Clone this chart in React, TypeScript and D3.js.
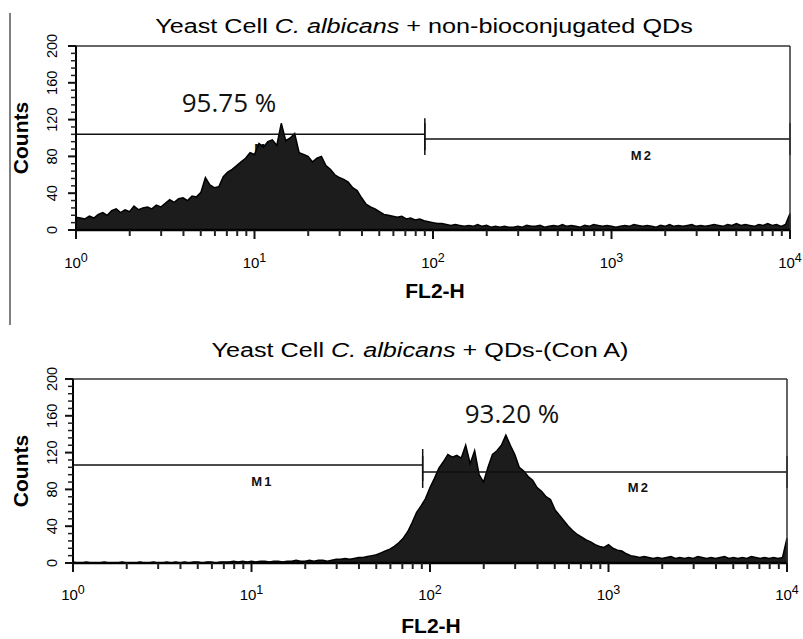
import * as d3 from "d3";

// counts per channel, 40 channels per decade, 10^0 .. 10^4
const topCounts = [
  14, 13, 12, 15, 13, 17, 19, 16, 21, 23,
  19, 22, 20, 26, 22, 24, 25, 23, 27, 25,
  29, 33, 30, 34, 35, 32, 37, 36, 41, 57,
  49, 46, 47, 58, 63, 66, 70, 74, 78, 84,
  82, 94, 90, 96, 98, 92, 116, 97, 100, 105,
  84, 82, 80, 74, 78, 80, 70, 66, 60, 57,
  55, 52, 46, 43, 35, 28, 25, 23, 20, 17,
  16, 15, 14, 15, 12, 13, 11, 12, 10, 9,
  8, 7, 7, 6, 5, 6, 5, 4, 5, 4,
  6, 4, 5, 3, 4, 3, 4, 3, 3, 4,
  3, 5, 4, 4, 5, 3, 4, 5, 4, 6,
  4, 5, 4, 3, 5, 4, 6, 5, 4, 5,
  4, 3, 4, 5, 4, 6, 5, 4, 5, 4,
  3, 5, 4, 6, 4, 5, 4, 5, 6, 4,
  5, 4, 5, 6, 5, 4, 6, 5, 7, 5,
  6, 5, 4, 6, 5, 7, 5, 6, 4, 6,
  18,
];

const bottomCounts = [
  1, 0, 0, 1, 0, 0, 0, 1, 0, 0,
  0, 1, 0, 0, 0, 1, 0, 0, 1, 0,
  0, 1, 0, 1, 0, 1, 0, 1, 1, 0,
  1, 1, 0, 1, 1, 1, 2, 1, 2, 1,
  2, 1, 2, 2, 1, 2, 2, 1, 2, 2,
  3, 2, 2, 3, 2, 3, 3, 2, 3, 4,
  4, 5, 4, 5, 6, 6, 7, 8, 9, 11,
  13, 15, 18, 22, 27, 34, 44, 55, 62, 70,
  82, 92, 103, 110, 118, 115, 117, 114, 128, 108,
  122, 96, 88, 104, 118, 122, 128, 139, 128, 118,
  104, 100, 94, 90, 82, 78, 72, 69, 58, 52,
  46, 40, 35, 31, 28, 25, 23, 20, 18, 17,
  20, 16, 14, 13, 10, 8, 7, 6, 7, 6,
  5, 6, 5, 6, 7, 5, 6, 5, 6, 5,
  7, 6, 5, 6, 5, 6, 7, 5, 6, 5,
  6, 5, 7, 6, 5, 6, 5, 6, 5, 6,
  27,
];

const CHANNELS_PER_DECADE = 40;
const Y_TICKS = [0, 40, 80, 120, 160, 200];
const DECADES = [0, 1, 2, 3, 4];

type Marker = {
  name: string;
  from: number;
  to: number;
  count: number;
  labelAt: number;
  labelCount: number;
};

const topMarkers: Marker[] = [
  { name: "M1", from: 1, to: 90, count: 104, labelAt: 11.5, labelCount: 84 },
  { name: "M2", from: 90, to: 10000, count: 99, labelAt: 1480, labelCount: 76 },
];

const bottomMarkers: Marker[] = [
  { name: "M1", from: 1, to: 91, count: 106.5, labelAt: 11.5, labelCount: 84 },
  { name: "M2", from: 91, to: 10000, count: 99, labelAt: 1480, labelCount: 77 },
];

const topPct = { text: "95.75 %", at: 7.2, count: 128 };
const bottomPct = { text: "93.20 %", at: 288, count: 152 };

const SANS = "'Liberation Sans', Arial, Helvetica, sans-serif";
const PLOT_H = 184;

type PanelProps = {
  left: number;
  right: number;
  top: number;
  counts: number[];
  markers: Marker[];
  pct: { text: string; at: number; count: number };
  titleRest: string;
  titleX: number;
  titleY: number;
  tickY: number;
  axisLabelX: number;
  axisLabelY: number;
};

const Panel = ({
  left,
  right,
  top,
  counts,
  markers,
  pct,
  titleRest,
  titleX,
  titleY,
  tickY,
  axisLabelX,
  axisLabelY,
}: PanelProps) => {
  const bottom = top + PLOT_H;
  const x = d3.scaleLog().domain([1, 10000]).range([left, right]);
  const y = d3.scaleLinear().domain([0, 200]).range([bottom, top]);

  const area = d3
    .area<number>()
    .x((_, i) => x(Math.pow(10, i / CHANNELS_PER_DECADE)))
    .y0(y(0))
    .y1((d) => y(d));

  const minorY = d3.range(0, 201, 8).filter((v) => v % 40 !== 0);
  const minorX = DECADES.slice(0, -1).flatMap((k) =>
    d3.range(2, 10).map((m) => m * Math.pow(10, k))
  );

  return (
    <g>
      {/* title */}
      <text
        transform={`translate(${titleX},${titleY}) scale(1.2,1)`}
        textAnchor="middle"
        fontFamily={SANS}
        fontSize={21}
        fill="#000"
      >
        <tspan>Yeast Cell </tspan>
        <tspan fontStyle="italic">C. albicans</tspan>
        <tspan>{` + ${titleRest}`}</tspan>
      </text>

      {/* marker labels (under the histogram) */}
      {markers.map((m) => (
        <text
          key={m.name + "l"}
          x={x(m.labelAt)}
          y={y(m.labelCount)}
          textAnchor="middle"
          fontFamily={SANS}
          fontSize={13}
          fontWeight="bold"
          letterSpacing={2}
          fill="#111"
        >
          {m.name}
        </text>
      ))}

      {/* histogram */}
      <path d={area(counts) ?? ""} fill="#1c1c1c" stroke="#000" strokeWidth={1.5} strokeLinejoin="miter" />

      {/* markers */}
      {markers.map((m) => (
        <g key={m.name} stroke="#111" strokeWidth={1.5}>
          <line x1={x(m.from)} x2={x(m.to)} y1={y(m.count)} y2={y(m.count)} />
          <line x1={x(m.from)} x2={x(m.from)} y1={y(m.count) - 16} y2={y(m.count) + 16} />
          <line x1={x(m.to)} x2={x(m.to)} y1={y(m.count) - 16} y2={y(m.count) + 16} />
        </g>
      ))}

      {/* frame */}
      <line x1={left} x2={right} y1={top} y2={top} stroke="#333" strokeWidth={1.5} />
      <line x1={right} x2={right} y1={top} y2={bottom} stroke="#333" strokeWidth={1.5} />
      <line x1={left} x2={left} y1={top} y2={bottom + 1} stroke="#000" strokeWidth={2} />
      <line x1={left} x2={right} y1={bottom} y2={bottom} stroke="#000" strokeWidth={2.5} />

      {/* y ticks */}
      {minorY.map((v) => (
        <line key={"my" + v} x1={left - 5} x2={left} y1={y(v)} y2={y(v)} stroke="#222" strokeWidth={1.5} />
      ))}
      {Y_TICKS.map((v) => (
        <g key={"y" + v}>
          <line x1={left - 8} x2={left} y1={y(v)} y2={y(v)} stroke="#111" strokeWidth={2} />
          <text
            transform={`translate(57,${y(v)}) rotate(-90)`}
            textAnchor="middle"
            fontFamily={SANS}
            fontSize={14.5}
            fill="#000"
          >
            {v}
          </text>
        </g>
      ))}
      <text
        transform={`translate(28,${(top + bottom) / 2}) rotate(-90)`}
        textAnchor="middle"
        fontFamily={SANS}
        fontSize={21}
        fontWeight="bold"
        fill="#000"
      >
        Counts
      </text>

      {/* x ticks */}
      {minorX.map((v) => (
        <line key={"mx" + v} x1={x(v)} x2={x(v)} y1={bottom} y2={bottom + 6} stroke="#222" strokeWidth={2} />
      ))}
      {DECADES.map((k) => (
        <g key={"x" + k}>
          <line x1={x(Math.pow(10, k))} x2={x(Math.pow(10, k))} y1={bottom} y2={bottom + 9} stroke="#111" strokeWidth={2} />
          <text
            x={x(Math.pow(10, k))}
            y={tickY}
            textAnchor="middle"
            fontFamily={SANS}
            fontSize={15}
            fill="#000"
          >
            <tspan>10</tspan>
            <tspan dy={-6} fontSize={12.5}>
              {k}
            </tspan>
          </text>
        </g>
      ))}
      <text
        x={axisLabelX}
        y={axisLabelY}
        textAnchor="middle"
        fontFamily={SANS}
        fontSize={21}
        fontWeight="bold"
        fill="#000"
      >
        FL2-H
      </text>

      {/* percentage */}
      <text
        x={x(pct.at)}
        y={y(pct.count)}
        textAnchor="middle"
        fontFamily="'Open Sans', sans-serif"
        fontSize={26}
        fill="#111"
      >
        {pct.text}
      </text>
    </g>
  );
};

export default function App() {
  return (
    <svg
      width={803}
      height={639}
      style={{ position: "absolute", left: 0, top: 0, background: "#fff" }}
    >
      <rect width={803} height={639} fill="#fff" />
      <line x1={10} x2={10} y1={13} y2={325} stroke="#555" strokeWidth={1.5} />
      <Panel
        left={76}
        right={790}
        top={46}
        counts={topCounts}
        markers={topMarkers}
        pct={topPct}
        titleRest="non-bioconjugated QDs"
        titleX={424}
        titleY={33}
        tickY={268}
        axisLabelX={435}
        axisLabelY={298}
      />
      <Panel
        left={73}
        right={787}
        top={379}
        counts={bottomCounts}
        markers={bottomMarkers}
        pct={bottomPct}
        titleRest="QDs-(Con A)"
        titleX={420}
        titleY={357}
        tickY={600}
        axisLabelX={431}
        axisLabelY={633}
      />
    </svg>
  );
}
